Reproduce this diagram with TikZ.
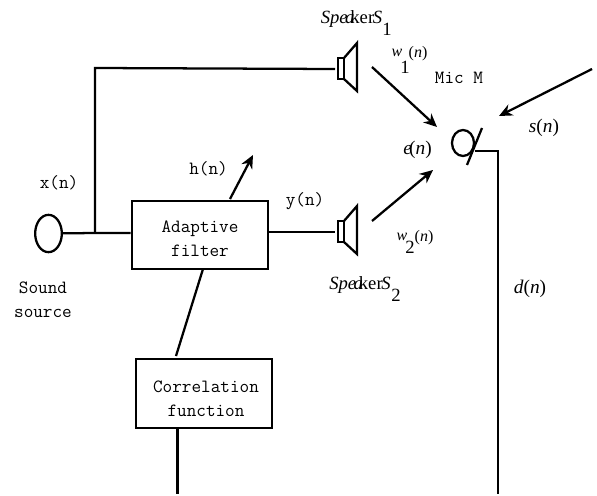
\documentclass[tikz,border=0pt]{standalone}
\usepackage{amsmath}
\usepackage{fontspec}
\setmainfont{Liberation Serif}
\usepackage{tikz}
\usetikzlibrary{shapes.geometric,arrows.meta}
\tikzset{
  wire/.style={line width=1.7pt},
  arrowwire/.style={wire,-{Stealth[length=10pt,width=9pt]}},
  blockbox/.style={draw,line width=1.9pt,rectangle,inner sep=0pt},
  monolabel/.style={font=\ttfamily\fontsize{14}{18}\selectfont,align=center,inner sep=0pt},
  mathlabel/.style={font=\fontsize{14.5}{14.5}\selectfont\itshape,inner sep=0pt},
  spklabel/.style={font=\fontsize{14}{14}\selectfont\itshape,inner sep=0pt},
  weightlabel/.style={font=\fontsize{12}{12}\selectfont,inner sep=0pt},
  sublabel/.style={font=\fontsize{14}{14}\selectfont,inner sep=0pt},
}
\begin{document}
\begin{tikzpicture}[x=0.75pt,y=-0.75pt]
\useasboundingbox (0,0) rectangle (597,496);
% source and blocks
\node[draw,wire,ellipse,minimum width=20pt,minimum height=28pt,inner sep=0pt] (source) at (48.5,233.5) {};
\node[blockbox,minimum width=102pt,minimum height=51pt] (filter) at (200,235) {};
\node[blockbox,minimum width=102pt,minimum height=52pt] (corr) at (204,393.5) {};
\node[monolabel] (filtertext) at (200,239) {Adaptive\\filter};
\node[monolabel] (corrtext) at (206,399) {Correlation\\function};
\coordinate (junction) at (95,233);
\coordinate (spkone) at (335,69);
\coordinate (spktwo) at (335,232);
% speakers
\foreach \Point in {spkone,spktwo}{
  \draw[wire] (\Point) ++(3,-11) rectangle ++(6,21);
  \draw[wire] (\Point) ++(9,-11) -- ++(13,-15) -- ++(0,48) -- ++(-13,-12);
}
% wires
\draw[wire] (source) -- (junction) -- (filter.west |- junction);
\draw[wire] (junction) -- (95,68) -- (spkone);
\draw[wire] (filter.east |- spktwo) -- (spktwo);
\draw[wire] (203,269) -- (176,356);
\draw[wire] (177.5,428) -- (177.5,494);
\draw[arrowwire] (230,199) -- (253,155);
\draw[arrowwire] (372,67) -- (437,127);
\draw[arrowwire] (372,221) -- (433,170);
\draw[arrowwire] (592,69) -- (499,116);
% mic
\node[draw,wire,ellipse,minimum width=16.5pt,minimum height=19.5pt,inner sep=0pt] (mic) at (463,143) {};
\draw[wire] (482,128) -- (467,165);
\draw[wire] (475,151) -- (498,151) -- (498,494);
% labels
\node[monolabel] (xlabel) at (59,183) {x(n)};
\node[monolabel] (sourcetext) at (43,299.5) {Sound\\source};
\node[monolabel] (hlabel) at (208.5,169) {h(n)};
\node[monolabel] (ylabel) at (305,201) {y(n)};
\node[monolabel] (miclabel) at (459,78) {Mic M};
\node[spklabel] (spkonelabel) at (351.5,19) {Spe\hspace{-2pt}a\hspace{-3pt}\textup{ker}\hspace{-1pt}S};
\node[sublabel] (spkonesub) at (387,29) {1};
\node[spklabel] (spktwolabel) at (360,285) {Spe\hspace{-2pt}a\hspace{-3pt}\textup{ker}\hspace{-1pt}S};
\node[sublabel] (spktwosub) at (396,295) {2};
\node[weightlabel] (wonelabel) at (397,53) {\textit{w}};
\node[sublabel] (wonesub) at (405,67) {1};
\node[weightlabel] (wonearg) at (418,54) {(\textit{n})};
\node[weightlabel] (wtwolabel) at (402,237) {\textit{w}};
\node[sublabel] (wtwosub) at (410,247) {2};
\node[weightlabel] (wtwoarg) at (424,238) {(\textit{n})};
\node[mathlabel] (elabel) at (417.5,150) {e\hspace{-2pt}\textup{(}n\textup{)}};
\node[mathlabel] (slabel) at (544,128) {s\textup{(}n\textup{)}};
\node[mathlabel] (dlabel) at (530,289) {d\textup{(}n\textup{)}};
\end{tikzpicture}
\end{document}
